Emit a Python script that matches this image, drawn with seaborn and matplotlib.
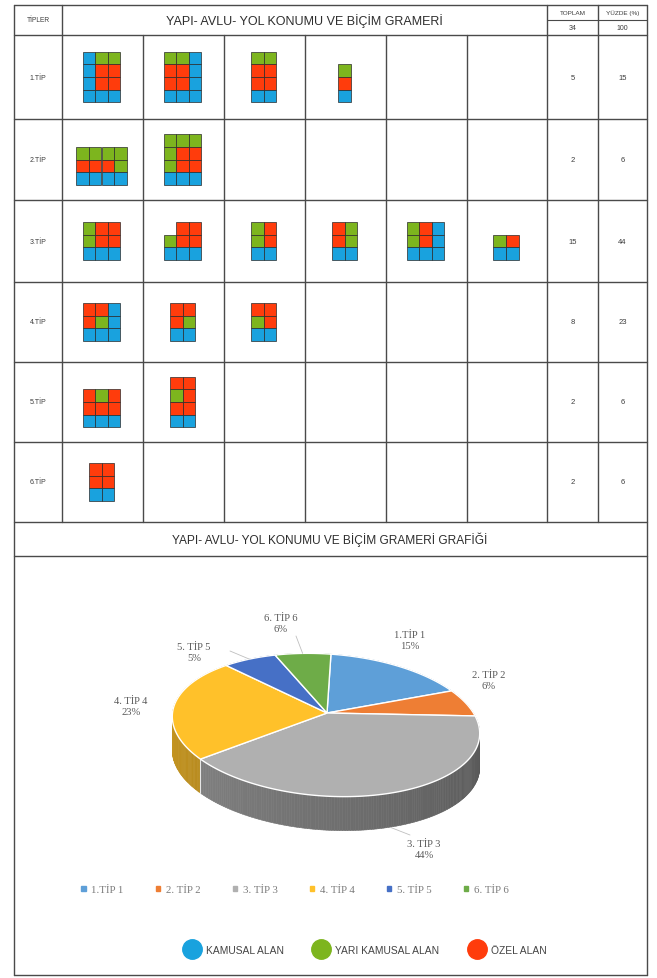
import numpy as np
import matplotlib
matplotlib.use("Agg")
import matplotlib.pyplot as plt
import seaborn as sns
from matplotlib.patches import Rectangle, Polygon, Patch
from matplotlib.lines import Line2D
from matplotlib.collections import PolyCollection
from matplotlib.colors import to_rgb

sns.set_theme(style="white")
plt.rcParams['font.family'] = ['Liberation Sans', 'DejaVu Sans']

# ---------------- data ----------------
types = ["1.TİP", "2.TİP", "3.TİP", "4.TİP", "5.TİP", "6.TİP"]
toplam = [5, 2, 15, 8, 2, 2]
yuzde = [15, 6, 44, 23, 6, 6]
toplam_total = "34"
yuzde_total = "100"

# B = kamusal (blue), G = yarı kamusal (green), R = özel (red), . = empty
grams_tip1 = ["BGG/BRR/BRR/BBB", "GGB/RRB/RRB/BBB", "GG/RR/RR/BB", "G/R/B"]
grams_tip2 = ["GGGG/RRRG/BBBB", "GGG/GRR/GRR/BBB"]
grams_tip3 = ["GRR/GRR/BBB", ".RR/GRR/BBB", "GR/GR/BB", "RG/RG/BB", "GRB/GRB/BBB", "GR/BB"]
grams_tip4 = ["RRB/RGB/BBB", "RR/RG/BB", "RR/GR/BB"]
grams_tip5 = ["RGR/RRR/BBB", "RR/GR/RR/BB"]
grams_tip6 = ["RR/RR/BB"]
grams = [grams_tip1, grams_tip2, grams_tip3, grams_tip4, grams_tip5, grams_tip6]

area_labels = ["KAMUSAL ALAN", "YARI KAMUSAL ALAN", "ÖZEL ALAN"]
area_codes = ["B", "G", "R"]

pie_values = toplam
pie_names = ["1.TİP 1", "2. TİP 2", "3. TİP 3", "4. TİP 4", "5. TİP 5", "6. TİP 6"]
pie_pct_text = ["15%", "6%", "44%", "23%", "5%", "6%"]

title_top = "YAPI- AVLU- YOL KONUMU VE BİÇİM GRAMERİ"
title_chart = "YAPI- AVLU- YOL KONUMU VE BİÇİM GRAMERİ GRAFİĞİ"

# ---------------- style ----------------
cell_colors = {"B": "#19A2DE", "G": "#7DB51E", "R": "#FF3C0C"}
pie_top = ["#5E9FD8", "#EE7E34", "#B0B0B0", "#FFC12A", "#4670C6", "#6EAC48"]
line_c = "#4a4a4a"
txt_c = "#3c3c3c"

W, H = 657, 979
fig = plt.figure(figsize=(W / 100, H / 100), dpi=100)
ax = fig.add_axes([0, 0, 1, 1])
ax.set_xlim(0, W)
ax.set_ylim(H, 0)
ax.axis("off")

col_x = [14, 62, 143, 224, 305, 386, 467, 547, 598, 647]
row_y = [6, 36, 120, 201, 283, 363, 443, 523, 557]
bottom_y = 976

# table lines
lw = 1.0
ax.plot([col_x[0], col_x[0]], [row_y[0], bottom_y], color=line_c, lw=lw)
ax.plot([col_x[-1], col_x[-1]], [row_y[0], bottom_y], color=line_c, lw=lw)
for i, x in enumerate(col_x[1:-1], start=1):
    y0 = row_y[0] if i in (1, 7, 8) else row_y[1]
    ax.plot([x, x], [y0, row_y[7]], color=line_c, lw=lw)
for y in row_y + [bottom_y]:
    ax.plot([col_x[0], col_x[-1]], [y, y], color=line_c, lw=lw)
ax.plot([col_x[7], col_x[9]], [21, 21], color=line_c, lw=0.8)

# header texts
ax.text((col_x[0] + col_x[1]) / 2, 21, "TİPLER", fontsize=4.8, color=txt_c, ha="center", va="center")
ax.text((col_x[1] + col_x[7]) / 2, 21, title_top, fontsize=9, color="#2e2e2e", ha="center", va="center")
ax.text((col_x[7] + col_x[8]) / 2, 13.5, "TOPLAM", fontsize=4.6, color=txt_c, ha="center", va="center")
ax.text((col_x[8] + col_x[9]) / 2, 13.5, "YÜZDE (%)", fontsize=4.6, color=txt_c, ha="center", va="center")
ax.text((col_x[7] + col_x[8]) / 2, 29, toplam_total, fontsize=5, color=txt_c, ha="center", va="center")
ax.text((col_x[8] + col_x[9]) / 2, 29, yuzde_total, fontsize=5, color=txt_c, ha="center", va="center")

cell = 12.6
for r, (lab, tot, pct, glist) in enumerate(zip(types, toplam, yuzde, grams)):
    yc = (row_y[r + 1] + row_y[r + 2]) / 2
    ax.text((col_x[0] + col_x[1]) / 2, yc, lab, fontsize=5, color=txt_c, ha="center", va="center")
    ax.text((col_x[7] + col_x[8]) / 2, yc, str(tot), fontsize=5.5, color=txt_c, ha="center", va="center")
    ax.text((col_x[8] + col_x[9]) / 2, yc, str(pct), fontsize=5.5, color=txt_c, ha="center", va="center")
    maxrows = max(len(g.split("/")) for g in glist)
    base = yc + maxrows * cell / 2
    for c, g in enumerate(glist):
        rows = g.split("/")
        nr, nc = len(rows), len(rows[0])
        xc = (col_x[c + 1] + col_x[c + 2]) / 2 - 1.0
        left = xc - nc * cell / 2
        top = base - nr * cell
        for i, rowstr in enumerate(rows):
            for j, code in enumerate(rowstr):
                if code == ".":
                    continue
                ax.add_patch(Rectangle((left + j * cell, top + i * cell), cell, cell,
                                       facecolor=cell_colors[code], edgecolor="#2a2a2a", lw=0.5))

ax.text(330, 540, title_chart, fontsize=8.6, color="#2e2e2e", ha="center", va="center")

# ---------------- 3D pie ----------------
cx, cy, rx, ry, depth = 326, 726, 154, 71, 34
tilt = np.deg2rad(4)
apex = (327, 714)


def edge(theta):
    x = rx * np.cos(theta)
    y = -ry * np.sin(theta)
    return cx + x * np.cos(tilt) - y * np.sin(tilt), cy + x * np.sin(tilt) + y * np.cos(tilt)


vals = np.array(pie_values, dtype=float)
cum = np.concatenate([[0], np.cumsum(vals) / vals.sum()])
starts = np.deg2rad(90 - 360 * cum[:-1])
ends = np.deg2rad(90 - 360 * cum[1:])

quads, qcols, qkeys = [], [], []
for k in range(len(vals)):
    ts = np.linspace(starts[k], ends[k], max(4, int(abs(starts[k] - ends[k]) / np.deg2rad(1)) + 2))
    base_rgb = np.array(to_rgb(pie_top[k]))
    for a, b in zip(ts[:-1], ts[1:]):
        xa, ya = edge(a)
        xb, yb = edge(b)
        m = (a + b) / 2
        tn = ((np.rad2deg(m) % 360) - 180) / 180.0
        tn = np.clip(tn, 0, 1)
        f = 0.78 - 0.28 * tn
        quads.append([(xa, ya), (xb, yb), (xb, yb + depth), (xa, ya + depth)])
        qcols.append(tuple(np.clip(base_rgb * f, 0, 1)))
        qkeys.append((ya + yb) / 2)
order = np.argsort(qkeys)
pc = PolyCollection([quads[i] for i in order], facecolors=[qcols[i] for i in order],
                    edgecolors=[qcols[i] for i in order], linewidths=0.4, zorder=3)
ax.add_collection(pc)

# boundary line on the visible side between wedges
for t in starts:
    if np.sin(t) < 0:
        x0, y0 = edge(t)
        ax.plot([x0, x0], [y0, y0 + depth], color="#e6e6e6", lw=0.8, zorder=3.5)

for k in range(len(vals)):
    ts = np.linspace(starts[k], ends[k], 120)
    pts = [apex] + [edge(t) for t in ts]
    ax.add_patch(Polygon(pts, closed=True, facecolor=pie_top[k], edgecolor="white", lw=1.0, zorder=4))

# pie labels
label_xy = [(410, 641), (489, 681), (424, 850), (131, 707), (194, 653), (281, 624)]
lab_font = ['Liberation Serif', 'DejaVu Serif']
for k in range(len(vals)):
    ax.text(label_xy[k][0], label_xy[k][1], pie_names[k] + "\n" + pie_pct_text[k], fontsize=7.6,
            color="#595959", ha="center", va="center", linespacing=1.3, family=lab_font, zorder=6)
# leader lines
for k, (p_end) in [(2, (410, 836)), (4, (230, 652)), (5, (296, 637))]:
    m = (starts[k] + ends[k]) / 2
    x0, y0 = edge(m)
    if np.sin(m) < 0:
        y0 += depth
    ax.plot([x0, p_end[0]], [y0, p_end[1]], color="#bfbfbf", lw=0.6, zorder=5)

# legend of types
h1 = [Patch(facecolor=c, edgecolor=c) for c in pie_top]
leg1 = fig.legend(h1, pie_names, loc="center", bbox_to_anchor=(295 / W, 1 - 891 / H), ncol=6,
                  frameon=False, handlelength=0.4, handleheight=0.4,
                  columnspacing=3.0, handletextpad=0.5, labelcolor="#7a7a7a",
                  prop={'family': lab_font, 'size': 7.8})

# legend of areas
h2 = [Line2D([], [], marker="o", ls="", markersize=14, markerfacecolor=cell_colors[c],
             markeredgecolor=cell_colors[c]) for c in area_codes]
leg2 = fig.legend(h2, area_labels, loc="center", bbox_to_anchor=(364 / W, 1 - 951 / H), ncol=3,
                  fontsize=7.4, frameon=False, columnspacing=2.6, handletextpad=0.4,
                  labelcolor="#444444")

fig.savefig("out.png", dpi=100)
